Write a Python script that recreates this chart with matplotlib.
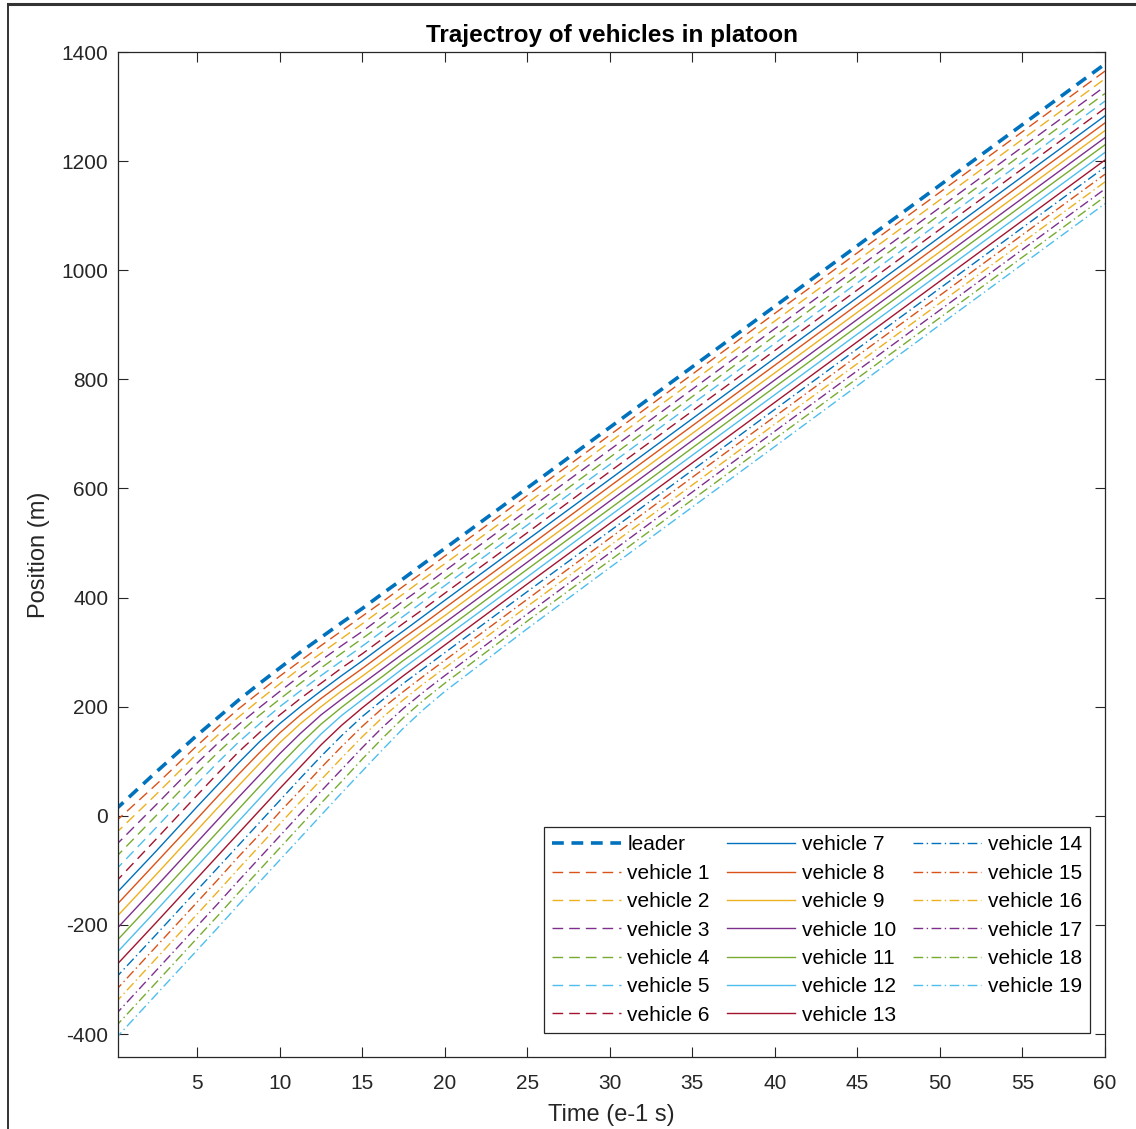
"""
plot.py
=======
Trajectory of a 20-vehicle platoon (leader + 19 followers), MATLAB-style.
Values read off the reference figure at a set of sample times.
"""

import matplotlib

matplotlib.use("Agg")
import matplotlib.pyplot as plt
from matplotlib.lines import Line2D

plt.rcParams["font.family"] = ["Liberation Sans", "DejaVu Sans"]
plt.rcParams["lines.scale_dashes"] = False
plt.rcParams["axes.unicode_minus"] = False

# --------------------------------------------------------------------------- #
# Data (position in m, time in e-1 s)
# --------------------------------------------------------------------------- #
t = [0, 2.5, 5, 6.25, 7.5, 8.75, 10, 11.25, 12.5, 13.75, 15, 16.25, 17.5, 18.75,
     20, 25, 30, 40, 50, 60]

leader = [10, 80, 148, 180, 212, 242, 271, 300, 327, 354, 380, 408, 435, 463, 490, 601, 712, 934, 1156, 1378]
v01 = [-12, 57, 129, 163, 196, 226, 256, 284, 312, 339, 366, 393, 421, 448, 476, 587, 698, 921, 1143, 1365]
v02 = [-34, 39, 114, 148, 181, 212, 242, 271, 298, 325, 352, 380, 407, 435, 462, 573, 685, 907, 1129, 1351]
v03 = [-56, 20, 97, 133, 167, 198, 228, 257, 285, 312, 338, 366, 394, 421, 449, 560, 671, 893, 1115, 1337]
v04 = [-78, 0, 79, 116, 151, 184, 214, 243, 271, 298, 325, 352, 380, 408, 435, 546, 657, 880, 1102, 1324]
v05 = [-101, -22, 59, 98, 135, 168, 200, 229, 257, 284, 311, 339, 366, 394, 422, 533, 644, 866, 1088, 1310]
v06 = [-123, -43, 38, 78, 117, 152, 185, 215, 243, 271, 297, 325, 353, 380, 408, 519, 631, 853, 1075, 1297]
v07 = [-145, -65, 17, 57, 97, 135, 169, 200, 229, 257, 284, 312, 339, 367, 395, 506, 617, 839, 1061, 1283]
v08 = [-167, -86, -5, 36, 76, 115, 152, 185, 215, 243, 270, 298, 326, 353, 381, 492, 604, 826, 1048, 1270]
v09 = [-189, -108, -26, 15, 55, 95, 134, 169, 200, 229, 256, 284, 312, 340, 367, 479, 590, 812, 1034, 1256]
v10 = [-211, -130, -48, -7, 34, 74, 114, 151, 185, 214, 242, 270, 298, 326, 354, 465, 577, 799, 1021, 1243]
v11 = [-233, -152, -70, -29, 12, 53, 93, 132, 168, 199, 228, 256, 285, 312, 340, 452, 563, 786, 1008, 1230]
v12 = [-255, -174, -92, -51, -10, 31, 72, 111, 150, 184, 213, 242, 271, 299, 327, 438, 550, 772, 994, 1216]
v13 = [-277, -196, -114, -73, -32, 9, 50, 90, 130, 166, 198, 228, 257, 285, 313, 425, 536, 758, 980, 1202]
v14 = [-299, -218, -136, -95, -54, -13, 28, 69, 109, 147, 182, 213, 243, 271, 299, 411, 522, 745, 967, 1189]
v15 = [-322, -240, -158, -117, -75, -35, 7, 47, 88, 127, 164, 198, 228, 257, 285, 397, 509, 732, 954, 1176]
v16 = [-344, -262, -180, -139, -97, -56, -15, 26, 66, 106, 145, 181, 213, 243, 271, 384, 495, 718, 940, 1162]
v17 = [-366, -284, -202, -161, -119, -78, -37, 4, 45, 85, 125, 163, 197, 228, 257, 370, 482, 705, 927, 1149]
v18 = [-388, -306, -224, -183, -141, -100, -59, -18, 23, 63, 104, 143, 180, 213, 243, 357, 468, 691, 913, 1135]
v19 = [-410, -328, -246, -205, -163, -122, -81, -40, 1, 42, 82, 122, 161, 196, 228, 343, 455, 677, 900, 1122]

followers = [v01, v02, v03, v04, v05, v06, v07, v08, v09, v10,
             v11, v12, v13, v14, v15, v16, v17, v18, v19]

x_ticks = [5, 10, 15, 20, 25, 30, 35, 40, 45, 50, 55, 60]
y_ticks = [-400, -200, 0, 200, 400, 600, 800, 1000, 1200, 1400]

# MATLAB default colour order
COLORS = ["#0072BD", "#D95319", "#EDB120", "#7E2F8E", "#77AC30", "#4DBEEE", "#A2142F"]
DASH = (0, (7.7, 4.3))
DASHDOT = (0, (7, 2.5, 1, 2.5))
AX_COL = "#262626"

W, H = 1136, 1129
fig = plt.figure(figsize=(W / 100, H / 100), dpi=100)
ax = fig.add_axes([118 / W, 1 - 1057 / H, (1105 - 118) / W, (1057 - 52) / H])

ax.plot(t, leader, color=COLORS[0], lw=2.6, linestyle=(0, (8.5, 5.5)), label="leader")
for i, y in enumerate(followers, start=1):
    if i <= 6:
        ls = DASH
    elif i <= 13:
        ls = "-"
    else:
        ls = DASHDOT
    ax.plot(t, y, color=COLORS[i % 7], lw=1.0, linestyle=ls, label=f"vehicle {i}")

ax.set_xlim(0.2, 60)
ax.set_ylim(-442, 1400)
ax.set_xticks(x_ticks)
ax.set_yticks(y_ticks)
ax.tick_params(direction="in", length=7, width=0.8, colors=AX_COL,
               labelsize=15, top=True, right=True)
ax.tick_params(axis="x", pad=12)
ax.tick_params(axis="y", pad=7)
for s in ax.spines.values():
    s.set_color(AX_COL)
    s.set_linewidth(0.9)

ax.set_title("Trajectroy of vehicles in platoon", fontsize=17.5, fontweight="bold",
             color="black", pad=7)
ax.set_xlabel("Time (e-1 s)", fontsize=17, color=AX_COL, labelpad=8)
ax.set_ylabel("Position (m)", fontsize=17, color=AX_COL, labelpad=8)

leg = ax.legend(ncol=3, loc="lower right",
                bbox_to_anchor=((1090 - 118) / 987, (1057 - 1033) / 1005),
                borderaxespad=0, fontsize=15, handlelength=3.3, handletextpad=0.3,
                columnspacing=0.8, labelspacing=0.45, borderpad=0.4,
                fancybox=False, framealpha=1)
leg.get_frame().set_edgecolor(AX_COL)
leg.get_frame().set_linewidth(0.9)

# screenshot border (top and left edges)
fig.add_artist(Line2D([8 / W, 1], [1 - 4 / H, 1 - 4 / H], transform=fig.transFigure,
                      color="#333333", lw=2.2))
fig.add_artist(Line2D([8 / W, 8 / W], [0, 1 - 4 / H], transform=fig.transFigure,
                      color="#333333", lw=1.4))

fig.savefig("out.png", dpi=100)
